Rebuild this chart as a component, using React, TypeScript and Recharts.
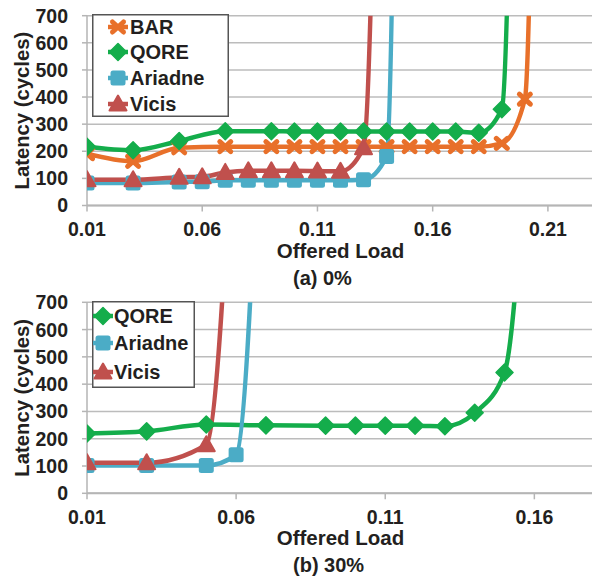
import { LineChart, Line, XAxis, YAxis, CartesianGrid, Legend, Label } from "recharts";

const FONT = '"Liberation Sans", Arial, Helvetica, sans-serif';
const INK = "#231f20";
const GRID = "#bcbcbc";
const AXIS = "#b5b5b5";

const ORANGE = "#e8702a";
const GREEN = "#14ad4b";
const BLUE = "#4bacc6";
const RED = "#c0504d";

// (a) 0%
const loadBarA = [0.01, 0.03, 0.05, 0.07, 0.09, 0.1, 0.11, 0.12, 0.13, 0.14, 0.15, 0.16, 0.17, 0.18, 0.19, 0.2, 0.21];
const barA = [191, 163, 213, 217, 217, 217, 217, 217, 217, 217, 217, 217, 217, 217, 229, 392, 6700];
const loadQoreA = [0.01, 0.03, 0.05, 0.07, 0.09, 0.1, 0.11, 0.12, 0.13, 0.14, 0.15, 0.16, 0.17, 0.18, 0.19, 0.2];
const qoreA = [217, 204, 238, 274, 274, 273, 273, 273, 273, 273, 273, 273, 273, 268, 355, 5200];
const loadAriadneA = [0.01, 0.03, 0.05, 0.06, 0.07, 0.08, 0.09, 0.1, 0.11, 0.12, 0.13, 0.14, 0.15];
const ariadneA = [83, 83, 87, 88, 93, 93, 93, 93, 93, 93, 95, 181, 7500];
const loadVicisA = [0.01, 0.03, 0.05, 0.06, 0.07, 0.08, 0.09, 0.1, 0.11, 0.12, 0.13, 0.14];
const vicisA = [95, 95, 104, 106, 122, 128, 128, 128, 127, 126, 213, 4000];

// (b) 30%
const loadQoreB = [0.01, 0.03, 0.05, 0.07, 0.09, 0.1, 0.11, 0.12, 0.13, 0.14, 0.15, 0.16];
const qoreB = [219, 227, 252, 249, 248, 248, 248, 248, 246, 295, 443, 1850];
const loadAriadneB = [0.01, 0.03, 0.05, 0.06, 0.07];
const ariadneB = [102, 102, 102, 141, 2100];
const loadVicisB = [0.01, 0.03, 0.05, 0.06];
const vicisB = [112, 112, 178, 1650];

const latencyTicks = [0, 100, 200, 300, 400, 500, 600, 700];
const loadTicksA = [0.01, 0.06, 0.11, 0.16, 0.21];
const loadTicksB = [0.01, 0.06, 0.11, 0.16];

type Kind = "x" | "diamond" | "square" | "triangle";
type Series = { name: string; kind: Kind; color: string; data: { x: number; y: number }[] };

const zip = (xs: number[], ys: number[]) => xs.map((x, i) => ({ x, y: ys[i] }));

const seriesA: Series[] = [
  { name: "BAR", kind: "x", color: ORANGE, data: zip(loadBarA, barA) },
  { name: "QORE", kind: "diamond", color: GREEN, data: zip(loadQoreA, qoreA) },
  { name: "Ariadne", kind: "square", color: BLUE, data: zip(loadAriadneA, ariadneA) },
  { name: "Vicis", kind: "triangle", color: RED, data: zip(loadVicisA, vicisA) },
];

const seriesB: Series[] = [
  { name: "QORE", kind: "diamond", color: GREEN, data: zip(loadQoreB, qoreB) },
  { name: "Ariadne", kind: "square", color: BLUE, data: zip(loadAriadneB, ariadneB) },
  { name: "Vicis", kind: "triangle", color: RED, data: zip(loadVicisB, vicisB) },
];

function Marker({ kind, cx, cy, color }: { kind: Kind; cx: number; cy: number; color: string }) {
  if (kind === "x") {
    return (
      <g stroke={color} strokeWidth={5} strokeLinecap="round">
        <line x1={cx - 5.5} y1={cy - 5} x2={cx + 5.5} y2={cy + 5} />
        <line x1={cx - 5.5} y1={cy + 5} x2={cx + 5.5} y2={cy - 5} />
      </g>
    );
  }
  if (kind === "diamond") {
    return (
      <polygon
        points={`${cx},${cy - 8.5} ${cx + 8.5},${cy} ${cx},${cy + 8.5} ${cx - 8.5},${cy}`}
        fill={color}
        stroke={color}
        strokeWidth={1.5}
        strokeLinejoin="round"
      />
    );
  }
  if (kind === "square") {
    return <rect x={cx - 7.5} y={cy - 7.5} width={15} height={15} rx={2.5} fill={color} />;
  }
  return (
    <polygon
      points={`${cx},${cy - 8.5} ${cx + 8.5},${cy + 6.5} ${cx - 8.5},${cy + 6.5}`}
      fill={color}
      stroke={color}
      strokeWidth={2}
      strokeLinejoin="round"
    />
  );
}

function LegendBox({
  series,
  width,
  height,
  rows,
  markerX,
  textX,
}: {
  series: Series[];
  width: number;
  height: number;
  rows: number[];
  markerX: number;
  textX: number;
}) {
  return (
    <svg width={width} height={height} style={{ display: "block" }}>
      <rect x={0.75} y={0.75} width={width - 1.5} height={height - 1.5} fill="#fff" stroke="#555" strokeWidth={1.5} />
      {series.map((s, i) => (
        <g key={s.name}>
          <line x1={markerX - 10} x2={markerX + 10} y1={rows[i]} y2={rows[i]} stroke={s.color} strokeWidth={4.5} />
          <Marker kind={s.kind} cx={markerX} cy={rows[i]} color={s.color} />
          <text
            x={textX}
            y={rows[i]}
            dominantBaseline="central"
            fontFamily={FONT}
            fontWeight="bold"
            fontSize={20}
            fill={INK}
          >
            {s.name}
          </text>
        </g>
      ))}
    </svg>
  );
}

function Panel({
  series,
  height,
  top,
  bottom,
  xMax,
  xTicks,
  caption,
  legend,
}: {
  series: Series[];
  height: number;
  top: number;
  bottom: number;
  xMax: number;
  xTicks: number[];
  caption: string;
  legend: { left: number; top: number; width: number; height: number; rows: number[]; markerX: number; textX: number };
}) {
  const tickStyle = { fontFamily: FONT, fontWeight: "bold", fontSize: 19.5, fill: INK };
  return (
    <LineChart width={600} height={height} margin={{ top, right: 6, bottom, left: 0 }}>
      <CartesianGrid vertical={false} stroke={GRID} strokeWidth={1.5} />
      <XAxis
        type="number"
        dataKey="x"
        domain={[0.01, xMax]}
        ticks={xTicks}
        allowDataOverflow
        tickFormatter={(v: number) => v.toFixed(2)}
        tick={tickStyle}
        tickSize={6}
        tickMargin={11}
        height={40}
        stroke={AXIS}
        axisLine={{ stroke: AXIS, strokeWidth: 2 }}
        tickLine={{ stroke: AXIS, strokeWidth: 1.5 }}
      >
        <Label
          content={(p: any) => (
            <g>
              <text
                x={p.viewBox.x + p.viewBox.width / 2}
                y={p.viewBox.y + 44.5}
                textAnchor="middle"
                dominantBaseline="central"
                fontFamily={FONT}
                fontWeight="bold"
                fontSize={20.5}
                fill={INK}
              >
                Offered Load
              </text>
              <text
                x={293}
                y={p.viewBox.y + 72}
                textAnchor="start"
                dominantBaseline="central"
                fontFamily={FONT}
                fontWeight="bold"
                fontSize={20}
                fill={INK}
              >
                {caption}
              </text>
            </g>
          )}
        />
      </XAxis>
      <YAxis
        type="number"
        domain={[0, 700]}
        ticks={latencyTicks}
        allowDataOverflow
        width={87}
        tick={tickStyle}
        tickSize={5}
        tickMargin={14}
        axisLine={{ stroke: AXIS, strokeWidth: 1.5 }}
        tickLine={{ stroke: AXIS, strokeWidth: 1.5 }}
      >
        <Label
          content={(p: any) => {
            const cy = p.viewBox.y + p.viewBox.height / 2;
            return (
              <text
                x={22}
                y={cy}
                transform={`rotate(-90 22 ${cy})`}
                textAnchor="middle"
                dominantBaseline="central"
                fontFamily={FONT}
                fontWeight="bold"
                fontSize={20.3}
                fill={INK}
              >
                Latency (cycles)
              </text>
            );
          }}
        />
      </YAxis>
      {series.map((s) => (
        <Line
          key={s.name}
          data={s.data}
          dataKey="y"
          name={s.name}
          type="monotone"
          stroke={s.color}
          strokeWidth={4.5}
          isAnimationActive={false}
          activeDot={false}
          dot={(p: any) =>
            p.cx == null || p.cy == null ? (
              <g key={`${s.name}-${p.index}`} />
            ) : (
              <Marker key={`${s.name}-${p.index}`} kind={s.kind} cx={p.cx} cy={p.cy} color={s.color} />
            )
          }
        />
      ))}
      <Legend
        layout="vertical"
        align="center"
        verticalAlign="middle"
        wrapperStyle={{
          position: "absolute",
          left: legend.left,
          top: legend.top,
          width: legend.width,
          height: legend.height,
          margin: 0,
          padding: 0,
        }}
        content={() => (
          <LegendBox
            series={series}
            width={legend.width}
            height={legend.height}
            rows={legend.rows}
            markerX={legend.markerX}
            textX={legend.textX}
          />
        )}
      />
    </LineChart>
  );
}

export default function App() {
  return (
    <div
      style={{
        position: "absolute",
        left: 0,
        top: 0,
        width: 592,
        height: 579,
        overflow: "hidden",
        background: "#fff",
      }}
    >
      <div style={{ position: "absolute", left: 0, top: 0 }}>
        <Panel
          series={seriesA}
          height={290}
          top={15.7}
          bottom={44.5}
          xMax={0.23}
          xTicks={loadTicksA}
          caption="(a) 0%"
          legend={{ left: 92, top: 14, width: 137, height: 103, rows: [13, 38, 64, 90], markerX: 26, textX: 38 }}
        />
      </div>
      <div style={{ position: "absolute", left: 0, top: 290 }}>
        <Panel
          series={seriesB}
          height={289}
          top={12.3}
          bottom={45.7}
          xMax={0.18}
          xTicks={loadTicksB}
          caption="(b) 30%"
          legend={{ left: 92, top: 11, width: 103, height: 87, rows: [15, 42, 71], markerX: 11, textX: 22 }}
        />
      </div>
    </div>
  );
}
